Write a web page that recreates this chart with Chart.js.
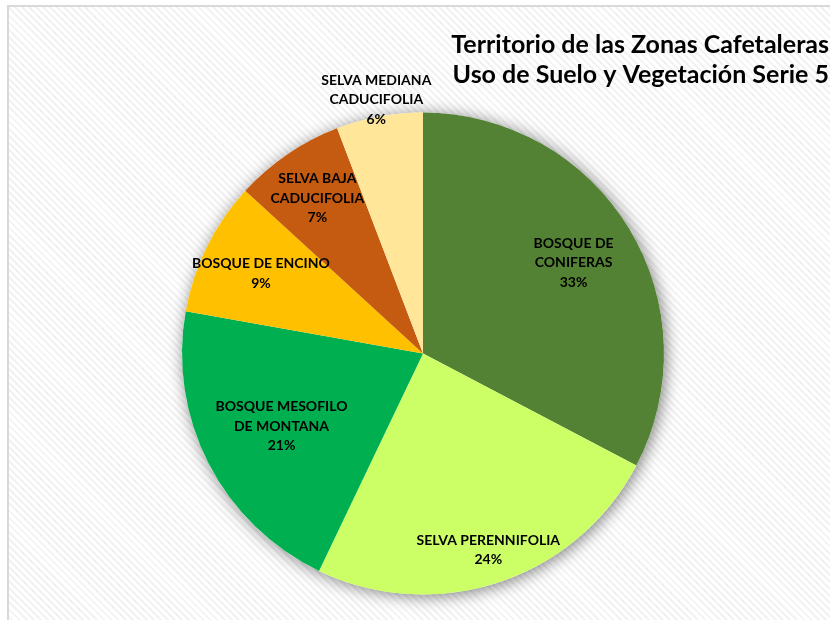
<!DOCTYPE html>
<html>
<head>
<meta charset="utf-8">
<script src="https://cdn.jsdelivr.net/npm/chart.js@4.4.1/dist/chart.umd.min.js"></script>
<style>
  html, body { margin: 0; padding: 0; width: 830px; height: 620px; overflow: hidden; background: #fff; }
  #frame {
    position: absolute; left: 7px; top: 5px; width: 900px; height: 700px;
    border: 2px solid #d9d9d9;
    background: repeating-linear-gradient(45deg, #ffffff 0px, #ffffff 3px, #f2f2f2 3px, #f2f2f2 5px);
  }
  #wrap { position: absolute; left: 0; top: 0; width: 830px; height: 620px; }
</style>
</head>
<body>
<div id="frame"></div>
<div id="wrap"><canvas id="pie"></canvas></div>
<script>
var categories = ['BOSQUE DE CONIFERAS', 'SELVA PERENNIFOLIA', 'BOSQUE MESOFILO DE MONTANA',
                  'BOSQUE DE ENCINO', 'SELVA BAJA CADUCIFOLIA', 'SELVA MEDIANA CADUCIFOLIA'];
var shares = [32.7, 24.4, 20.7, 9.0, 7.4, 5.8];
var titleLines = ['Territorio de las Zonas Cafetaleras', 'Uso de Suelo y Vegetación Serie 5'];

// how the label text is broken into lines, and where it sits (fraction of radius)
var labelLines = [
    ['BOSQUE DE', 'CONIFERAS'],
    ['SELVA PERENNIFOLIA'],
    ['BOSQUE MESOFILO', 'DE MONTANA'],
    ['BOSQUE DE ENCINO'],
    ['SELVA BAJA', 'CADUCIFOLIA'],
    ['SELVA MEDIANA', 'CADUCIFOLIA']
];
var labelRadius = [0.73, 0.86, 0.66, 0.75, 0.78, 1.07];
var colors = ['#548235', '#CCFF66', '#00B050', '#FFC000', '#C55A11', '#FFE699'];

var shadowPlugin = {
    id: 'shadow',
    beforeDatasetsDraw: function (chart) {
        var arc = chart.getDatasetMeta(0).data[0];
        var c = chart.ctx;
        c.save();
        c.shadowColor = 'rgba(0,0,0,0.5)';
        c.shadowBlur = 16;
        c.shadowOffsetX = 2;
        c.shadowOffsetY = 2;
        c.fillStyle = '#ffffff';
        c.beginPath();
        c.arc(arc.x, arc.y, arc.outerRadius, 0, Math.PI * 2);
        c.fill();
        c.restore();
    }
};

var labelPlugin = {
    id: 'labels',
    afterDatasetsDraw: function (chart) {
        var c = chart.ctx;
        var meta = chart.getDatasetMeta(0);
        var total = shares.reduce(function (a, b) { return a + b; }, 0);
        c.save();
        c.fillStyle = '#000';
        c.textAlign = 'center';
        c.textBaseline = 'middle';
        c.font = 'bold 14px Lato, "Open Sans", sans-serif';
        meta.data.forEach(function (arc, i) {
            var mid = (arc.startAngle + arc.endAngle) / 2;
            var r = arc.outerRadius * labelRadius[i];
            var x = arc.x + Math.cos(mid) * r;
            var y = arc.y + Math.sin(mid) * r;
            var lines = labelLines[i].concat([Math.round(shares[i] / total * 100) + '%']);
            var lh = 19.5;
            var y0 = y - (lines.length - 1) * lh / 2;
            lines.forEach(function (t, k) { c.fillText(t, x, y0 + k * lh); });
        });
        // title
        c.textAlign = 'right';
        c.font = 'bold 25px Lato, "Open Sans", sans-serif';
        c.fillText(titleLines[0], 829, 45);
        c.fillText(titleLines[1], 829, 75);
        c.restore();
    }
};

new Chart(document.getElementById('pie'), {
    type: 'pie',
    data: {
        labels: categories,
        datasets: [{
            data: shares,
            backgroundColor: colors,
            borderWidth: 0
        }]
    },
    options: {
        responsive: true,
        maintainAspectRatio: false,
        animation: false,
        layout: { padding: { top: 112, bottom: 25, left: 182, right: 166 } },
        plugins: {
            legend: { display: false },
            tooltip: { enabled: false }
        }
    },
    plugins: [shadowPlugin, labelPlugin]
});
</script>
</body>
</html>
